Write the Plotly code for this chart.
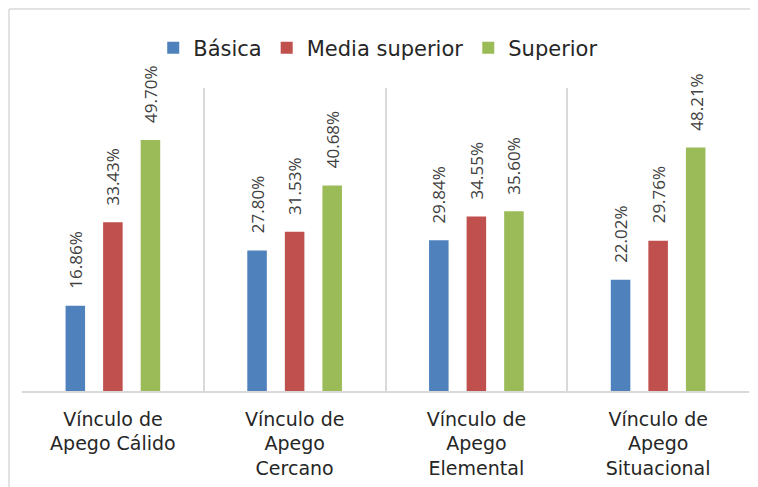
import plotly.graph_objects as go

categories = ["Vínculo de<br>Apego Cálido", "Vínculo de<br>Apego<br>Cercano",
              "Vínculo de<br>Apego<br>Elemental", "Vínculo de<br>Apego<br>Situacional"]
series_names = ["Básica", "Media superior", "Superior"]
basica = [16.86, 27.80, 29.84, 22.02]
media_superior = [33.43, 31.53, 34.55, 29.76]
superior = [49.70, 40.68, 35.60, 48.21]
colors = ["#4f81bd", "#c0504d", "#9bbb59"]

values = [basica, media_superior, superior]

fig = go.Figure()
for name, vals, col in zip(series_names, values, colors):
    fig.add_trace(go.Bar(x=categories, y=vals, name=name, marker_color=col,
                         marker_line_width=0))

slot_px = 37.57
annotations = []
for i, vals in enumerate(values):
    for cat, v in zip(categories, vals):
        annotations.append(dict(
            x=cat, y=v, xref="x", yref="y", text=f"{v:.2f}%",
            showarrow=False, textangle=-90, xanchor="center", yanchor="bottom",
            xshift=(i - 1) * slot_px, yshift=15,
            font=dict(family="Open Sans", size=17, color="#404040")))

shapes = [
    dict(type="line", xref="paper", yref="paper", x0=-13/727, x1=760/727,
         y0=1 + 79/303, y1=1 + 79/303, line=dict(color="#d9d9d9", width=1.5)),
    dict(type="line", xref="paper", yref="paper", x0=-13/727, x1=-13/727,
         y0=-110/303, y1=1 + 79/303, line=dict(color="#d9d9d9", width=1.5)),
]

fig.update_layout(
    width=750, height=479,
    margin=dict(l=14, r=9, t=80, b=96, autoexpand=False),
    paper_bgcolor="white", plot_bgcolor="white",
    bargap=0.38, bargroupgap=0.48,
    barmode="group",
    font=dict(family="Open Sans", color="#262626"),
    legend=dict(orientation="h", x=0.49, xanchor="center", y=1 + 40/303,
                yanchor="middle", font=dict(size=21, family="DejaVu Sans", color="#262626"),
                itemwidth=30, traceorder="normal"),
    xaxis=dict(tickson="boundaries", showgrid=True, gridcolor="#d9d9d9", gridwidth=1.5,
               showline=True, linecolor="#d9d9d9", linewidth=1.5, ticks="",
               automargin=False, ticklabelstandoff=10,
               tickfont=dict(size=19, family="DejaVu Sans", color="#262626")),
    yaxis=dict(range=[0, 60], showgrid=False, showticklabels=False, zeroline=False,
               showline=False, ticks="", automargin=False),
    annotations=annotations,
    shapes=shapes,
)

fig.write_html("out.html")
